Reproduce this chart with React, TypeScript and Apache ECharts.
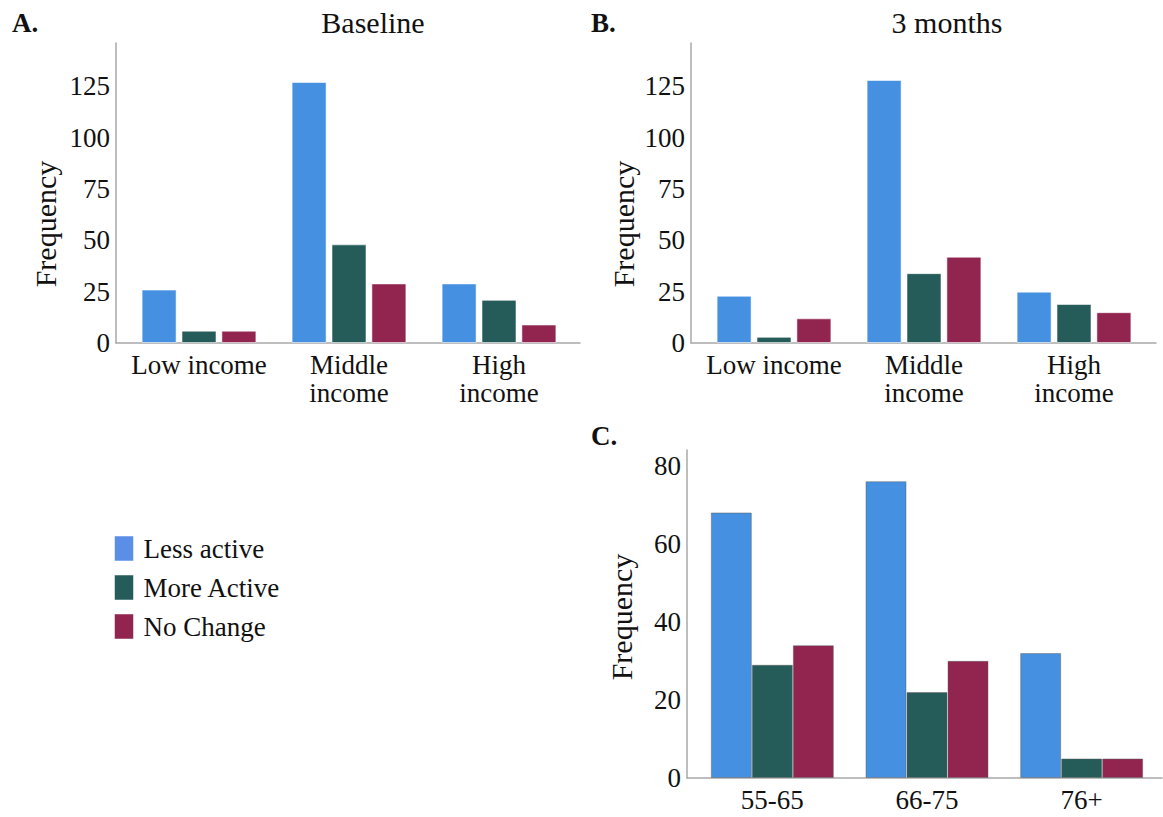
import React, { useEffect, useRef } from "react";
import * as echarts from "echarts";

// Group labels
const seriesNames = ["Less active", "More Active", "No Change"];
const incomeCategories = ["Low income", "Middle\nincome", "High\nincome"];
const ageCategories = ["55-65", "66-75", "76+"];

// A. Baseline, by income
const baselineLess = [26, 127, 29];
const baselineMore = [6, 48, 21];
const baselineNoChange = [6, 29, 9];

// B. 3 months, by income
const threeMonthLess = [23, 128, 25];
const threeMonthMore = [3, 34, 19];
const threeMonthNoChange = [12, 42, 15];

// C. By age group
const ageLess = [68, 76, 32];
const ageMore = [29, 22, 5];
const ageNoChange = [34, 30, 5];

// Value axis extents
const incomeAxisMax = 146;
const incomeAxisStep = 25;
const ageAxisMax = 84;
const ageAxisStep = 20;

const barColors = ["#4590E0", "#255C5A", "#922550"];
const legendColors = ["#5B8EE6", "#255C5A", "#922550"];
const FONT = '"Liberation Serif", "Times New Roman", serif';
const AXIS_GRAY = "#a8a8a8";

export default function App() {
  const ref = useRef<HTMLDivElement>(null);

  useEffect(() => {
    if (!ref.current) return;
    const chart = echarts.init(ref.current, null, { renderer: "svg" });

    // Outer grids carry the visible axis lines and tick labels,
    // inner grids hold the bars and category labels.
    const grids = [
      { left: 116, top: 43, width: 464, height: 300 },
      { left: 124, top: 43, width: 450, height: 300 },
      { left: 691, top: 43, width: 465, height: 300 },
      { left: 699, top: 43, width: 450, height: 300 },
      { left: 687, top: 450, width: 475, height: 328 },
      { left: 695, top: 450, width: 464, height: 328 },
    ];

    const outerX = (gridIndex: number) => ({
      gridIndex,
      type: "category",
      data: [""],
      axisLine: { show: true, lineStyle: { color: AXIS_GRAY, width: 1.5 } },
      axisTick: { show: false },
      axisLabel: { show: false },
    });
    const innerX = (gridIndex: number, data: string[]) => ({
      gridIndex,
      type: "category",
      data,
      axisLine: { show: false },
      axisTick: { show: false },
      axisLabel: {
        interval: 0,
        fontSize: 27,
        lineHeight: 28,
        fontFamily: FONT,
        color: "#111",
        margin: 8,
      },
    });
    const outerY = (gridIndex: number, max: number, interval: number) => ({
      gridIndex,
      type: "value",
      min: 0,
      max,
      interval,
      axisLine: { show: true, lineStyle: { color: AXIS_GRAY, width: 1.5 } },
      axisTick: { show: false },
      splitLine: { show: false },
      axisLabel: {
        fontSize: 27,
        fontFamily: FONT,
        color: "#111",
        margin: 6,
        showMaxLabel: false,
      },
    });
    const innerY = (gridIndex: number, max: number) => ({
      gridIndex,
      type: "value",
      min: 0,
      max,
      show: false,
    });

    const incomeBar = (axis: number, i: number, data: number[]) => ({
      name: seriesNames[i],
      type: "bar",
      xAxisIndex: axis,
      yAxisIndex: axis,
      data,
      barWidth: 35,
      barGap: "14%",
      itemStyle: {
        color: barColors[i],
        borderColor: "rgba(255,255,255,0.55)",
        borderWidth: 1,
      },
    });
    const ageBar = (axis: number, i: number, data: number[]) => ({
      name: seriesNames[i],
      type: "bar",
      xAxisIndex: axis,
      yAxisIndex: axis,
      data,
      barWidth: 41,
      barGap: "0%",
      itemStyle: {
        color: barColors[i],
        borderColor: "rgba(90,90,90,0.45)",
        borderWidth: 1,
      },
    });

    const frequencyLabel = (x: number, y: number) => ({
      type: "text",
      x,
      y,
      rotation: Math.PI / 2,
      style: {
        text: "Frequency",
        fontSize: 30,
        fontFamily: FONT,
        fill: "#111",
        align: "center",
        verticalAlign: "middle",
      },
    });
    const textAt = (
      text: string,
      x: number,
      y: number,
      fontSize: number,
      bold: boolean,
      align: string
    ) => ({
      type: "text",
      x,
      y,
      style: {
        text,
        fontSize,
        fontWeight: bold ? "bold" : "normal",
        fontFamily: FONT,
        fill: "#111",
        align,
        verticalAlign: "middle",
      },
    });

    chart.setOption({
      animation: false,
      backgroundColor: "#ffffff",
      grid: grids,
      xAxis: [
        outerX(0),
        innerX(1, incomeCategories),
        outerX(2),
        innerX(3, incomeCategories),
        outerX(4),
        innerX(5, ageCategories),
      ],
      yAxis: [
        outerY(0, incomeAxisMax, incomeAxisStep),
        innerY(1, incomeAxisMax),
        outerY(2, incomeAxisMax, incomeAxisStep),
        innerY(3, incomeAxisMax),
        outerY(4, ageAxisMax, ageAxisStep),
        innerY(5, ageAxisMax),
      ],
      legend: {
        orient: "vertical",
        left: 114,
        top: 535,
        padding: 0,
        itemWidth: 19,
        itemHeight: 25,
        itemGap: 12,
        icon: "rect",
        selectedMode: false,
        textStyle: {
          fontSize: 27,
          fontFamily: FONT,
          color: "#111",
          padding: [0, 0, 0, 5],
        },
        data: seriesNames.map((name, i) => ({
          name,
          itemStyle: {
            color: legendColors[i],
            borderColor: "rgba(255,255,255,0.5)",
            borderWidth: 1,
          },
        })),
      },
      series: [
        incomeBar(1, 0, baselineLess),
        incomeBar(1, 1, baselineMore),
        incomeBar(1, 2, baselineNoChange),
        incomeBar(3, 0, threeMonthLess),
        incomeBar(3, 1, threeMonthMore),
        incomeBar(3, 2, threeMonthNoChange),
        ageBar(5, 0, ageLess),
        ageBar(5, 1, ageMore),
        ageBar(5, 2, ageNoChange),
      ],
      graphic: [
        textAt("A.", 12, 23, 27, true, "left"),
        textAt("Baseline", 373, 22, 30, false, "center"),
        textAt("B.", 591, 23, 27, true, "left"),
        textAt("3 months", 947, 22, 30, false, "center"),
        textAt("C.", 591, 436, 27, true, "left"),
        frequencyLabel(45, 224),
        frequencyLabel(623, 224),
        frequencyLabel(621, 617),
      ],
    });

    return () => chart.dispose();
  }, []);

  return (
    <div
      ref={ref}
      style={{ position: "absolute", left: 0, top: 0, width: 1163, height: 817 }}
    />
  );
}
